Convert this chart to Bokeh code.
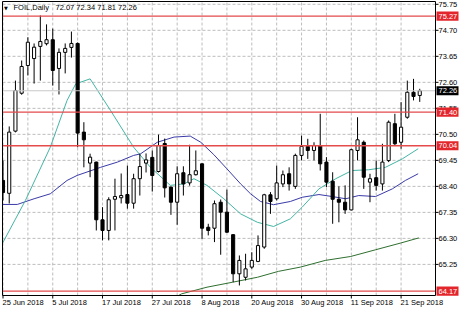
from bokeh.plotting import figure
from bokeh.models import Range1d, ColumnDataSource
from bokeh.core.properties import value
from bokeh.embed import file_html
from bokeh.resources import INLINE

# ---------------- data ----------------
symbol_text = "FOIL,Daily"
header_ohlc = "72.07 72.34 71.81 72.26"

opens = [68.64, 68.12, 70.63, 72.16, 73.28, 73.56, 74.05, 74.16, 74.32, 73.16,
         73.81, 74.01, 74.17, 70.59, 69.34, 69.38, 67.05, 66.62, 67.88, 67.94,
         68.07, 67.72, 68.71, 69.34, 69.57, 69.00, 70.13, 68.37, 67.76, 68.95,
         68.54, 68.87, 69.31, 66.75, 66.71, 67.76, 67.36, 66.45, 64.87, 64.73,
         65.14, 65.37, 65.95, 68.06, 67.90, 68.50, 68.91, 68.40, 69.65, 70.01,
         69.85, 70.05, 69.38, 68.61, 67.88, 67.76, 67.45, 69.85, 70.18, 68.57,
         68.75, 68.50, 69.44, 70.93, 70.18, 71.19, 72.20, 72.07]
highs = [69.44, 70.82, 72.67, 73.48, 74.42, 74.17, 75.30, 74.94, 74.77, 73.97,
         74.17, 74.65, 74.21, 70.99, 69.72, 69.40, 67.56, 67.96, 68.71, 68.92,
         69.24, 68.91, 69.72, 69.73, 69.85, 70.49, 70.33, 68.40, 69.21, 69.21,
         70.08, 69.85, 69.33, 66.89, 67.83, 67.87, 68.27, 66.47, 65.61, 65.68,
         65.74, 66.42, 68.10, 68.17, 69.24, 69.04, 69.17, 69.72, 70.45, 70.32,
         70.18, 71.33, 69.58, 68.97, 68.40, 68.44, 69.92, 71.19, 70.25, 68.91,
         69.44, 70.12, 71.06, 71.33, 71.80, 72.67, 72.74, 72.34]
lows = [67.83, 67.71, 70.58, 72.10, 72.88, 72.55, 72.67, 74.09, 72.47, 72.11,
        72.96, 73.60, 69.98, 69.17, 68.77, 66.62, 66.22, 66.22, 66.62, 67.71,
        67.50, 67.50, 68.03, 68.96, 68.19, 68.96, 67.95, 67.25, 66.85, 68.03,
        68.43, 68.84, 66.28, 66.42, 66.15, 65.64, 66.52, 64.53, 64.40, 64.60,
        65.07, 65.34, 65.88, 67.29, 67.83, 68.37, 68.23, 68.30, 69.45, 69.51,
        69.45, 69.04, 68.37, 66.89, 66.95, 67.29, 67.43, 69.45, 68.30, 67.76,
        68.23, 68.23, 69.38, 70.05, 69.92, 71.13, 71.87, 71.81]
closes = [68.15, 70.59, 72.27, 73.24, 74.22, 74.02, 74.25, 74.32, 73.08, 73.81,
          73.97, 74.17, 70.55, 70.28, 69.58, 67.05, 66.62, 67.86, 67.99, 68.03,
          67.72, 68.71, 69.20, 69.47, 68.84, 70.05, 68.34, 67.76, 68.91, 68.50,
          68.87, 69.03, 66.71, 66.62, 67.70, 67.36, 66.55, 64.87, 65.41, 65.07,
          65.41, 66.01, 68.06, 67.79, 68.54, 68.87, 68.50, 69.65, 70.01, 69.85,
          70.05, 69.31, 68.57, 67.88, 67.76, 67.45, 69.88, 70.28, 68.77, 68.71,
          68.44, 69.38, 70.99, 70.12, 70.79, 72.20, 72.03, 72.26]

date_ticks = [0, 8, 16, 24, 32, 40, 48, 56, 64]
date_labels = ["25 Jun 2018", "5 Jul 2018", "17 Jul 2018", "27 Jul 2018", "8 Aug 2018",
               "20 Aug 2018", "30 Aug 2018", "11 Sep 2018", "21 Sep 2018"]
price_ticks = [65.25, 66.30, 67.35, 68.40, 69.45, 70.50, 71.55, 72.60, 73.65, 74.70, 75.75]
levels = [75.27, 71.40, 70.04, 64.17]
last_price = 72.26

fast_ma_x = [-0.13, 3.6, 7.6, 10.3, 11.7, 14.0, 17.3, 21.0, 23.7, 26.9, 29.1, 30.7, 32.8,
             35.5, 38.2, 40.9, 43.5, 46.2, 48.1, 50.8, 53.5, 56.1, 58.8, 61.5, 64.2, 66.75]
fast_ma_y = [66.08, 67.83, 69.98, 71.87, 72.54, 72.74, 71.46, 69.98, 69.17, 68.44, 68.50,
             68.71, 68.44, 67.90, 67.29, 66.95, 66.78, 67.09, 67.56, 68.30, 68.71, 69.04,
             69.07, 69.17, 69.51, 69.92]
mid_ma_x = [-0.13, 2.3, 5.0, 7.6, 10.3, 11.9, 15.7, 18.4, 21.0, 22.1, 24.8, 27.5, 30.1,
            31.8, 33.9, 36.0, 38.2, 39.8, 41.4, 43.5, 46.2, 48.1, 50.8, 52.9, 55.1, 57.2,
            59.9, 62.6, 64.7, 66.75]
mid_ma_y = [67.67, 67.67, 67.90, 68.10, 68.64, 68.84, 69.17, 69.38, 69.65, 69.71, 70.18,
            70.39, 70.43, 70.18, 69.68, 69.11, 68.50, 68.10, 67.79, 67.66, 67.79, 67.96,
            68.07, 67.99, 67.90, 68.03, 67.99, 68.30, 68.64, 68.91]
slow_ma_x = [28.2, 28.7, 32.8, 36.9, 40.9, 44.3, 47.8, 51.8, 55.9, 59.9, 63.9, 66.85]
slow_ma_y = [63.99, 64.06, 64.33, 64.53, 64.73, 64.97, 65.14, 65.41, 65.57, 65.84, 66.11, 66.32]

# ---------------- geometry / styling (pixel layout of the MT4 window) ----------------
W, H = 465, 310
BAR0_PX, PX_PER_BAR = 2.5, 6.22          # bar index -> pixel
REF_PRICE, REF_PY, PX_PER_UNIT = 75.27, 15.7, 24.77   # price -> pixel
CH_L, CH_R, CH_T, CH_B = 2, 435, 1, 295   # chart area in pixels


def xd(px):
    return (px - BAR0_PX) / PX_PER_BAR


def yd(py):
    return REF_PRICE + (REF_PY - py) / PX_PER_UNIT


FONT = value("Liberation Sans")
FS = value("7.5px")
RED_LINE = "#E54B4B"
RED_BOX = "#E3262B"
GRID = "#BDBDBD"

p = figure(width=W, height=H, x_range=Range1d(xd(0), xd(W)), y_range=Range1d(yd(H), yd(0)),
           output_backend="svg", toolbar_location=None,
           x_axis_location=None, y_axis_location=None,
           min_border_left=0, min_border_right=0, min_border_top=0, min_border_bottom=0)
p.background_fill_color = "white"
p.border_fill_color = "white"
p.outline_line_color = None
p.grid.visible = False

L, R, T, B = xd(CH_L), xd(CH_R), yd(CH_T), yd(CH_B)

# grid
grid_x = list(range(0, date_ticks[-1] + 1, 4))
p.segment(x0=grid_x, y0=[B] * len(grid_x), x1=grid_x, y1=[T] * len(grid_x),
          line_color=GRID, line_dash="3 2", line_width=1)
p.segment(x0=[L] * len(price_ticks), y0=price_ticks, x1=[R] * len(price_ticks), y1=price_ticks,
          line_color=GRID, line_dash="3 2", line_width=1)

# indicator lines
p.line(slow_ma_x, slow_ma_y, line_color="#2F6F2F", line_width=1)
p.line(mid_ma_x, mid_ma_y, line_color="#3A3AA8", line_width=1)
p.line(fast_ma_x, fast_ma_y, line_color="#45B5A5", line_width=1)

# candles
idx = list(range(len(opens)))
p.segment(x0=idx, y0=lows, x1=idx, y1=highs, line_color="black", line_width=1)
up = [i for i in idx if closes[i] >= opens[i]]
dn = [i for i in idx if closes[i] < opens[i]]
src_up = ColumnDataSource(dict(x=up, top=[closes[i] for i in up], bottom=[opens[i] for i in up]))
src_dn = ColumnDataSource(dict(x=dn, top=[opens[i] for i in dn], bottom=[closes[i] for i in dn]))
p.vbar(x="x", top="top", bottom="bottom", width=0.5, source=src_up,
       fill_color="white", line_color="black", line_width=1)
p.vbar(x="x", top="top", bottom="bottom", width=0.5, source=src_dn,
       fill_color="black", line_color="black", line_width=1)

# bid line and horizontal levels
p.segment(x0=[L], y0=[last_price], x1=[R], y1=[last_price], line_color="#C8C8C8", line_width=1)
p.segment(x0=[L] * len(levels), y0=levels, x1=[R] * len(levels), y1=levels,
          line_color=RED_LINE, line_width=1.3)

# white margin left of the chart area (clip the first candle)
p.quad(left=[xd(0)], right=[L], top=[yd(0)], bottom=[yd(H)], fill_color="white", line_color=None)

# chart frame
p.quad(left=[L], right=[R], top=[T], bottom=[B], fill_color=None, line_color="black", line_width=1)

# price scale: ticks and labels
p.segment(x0=[R] * len(price_ticks), y0=price_ticks, x1=[xd(CH_R + 3)] * len(price_ticks),
          y1=price_ticks, line_color="black", line_width=1)
p.text(x=[xd(CH_R + 3)] * len(price_ticks), y=price_ticks,
       text=[f"{t:.2f}" for t in price_ticks], text_font=FONT, text_font_size=FS,
       text_color="black", text_baseline="middle", text_align="left")

# price boxes for levels and bid
box_l, box_r = xd(CH_R + 1), xd(CH_R + 23)
half_h = 4.6 / PX_PER_UNIT
p.quad(left=[box_l] * len(levels), right=[box_r] * len(levels),
       top=[lv + half_h for lv in levels], bottom=[lv - half_h for lv in levels],
       fill_color=RED_BOX, line_color=None)
p.quad(left=[box_l], right=[box_r], top=[last_price + half_h], bottom=[last_price - half_h],
       fill_color="black", line_color=None)
p.text(x=[xd(CH_R + 3)] * (len(levels) + 1), y=levels + [last_price],
       text=[f"{v:.2f}" for v in levels + [last_price]], text_font=FONT, text_font_size=FS,
       text_color="white", text_baseline="middle", text_align="left")

# time scale: ticks and labels
p.segment(x0=date_ticks, y0=[B] * len(date_ticks), x1=date_ticks,
          y1=[yd(CH_B + 3)] * len(date_ticks), line_color="black", line_width=1)
p.text(x=[xd(BAR0_PX + PX_PER_BAR * t - 0.5) for t in date_ticks], y=[yd(CH_B + 2)] * len(date_ticks),
       text=date_labels, text_font=FONT, text_font_size=FS, text_color="black",
       text_baseline="top", text_align="left")

# header
p.text(x=[xd(3.5)], y=[yd(7.3)], text=["▼"], text_font=value("DejaVu Sans"),
       text_font_size=value("5px"), text_color="black", text_baseline="middle", text_align="left")
p.text(x=[xd(13)], y=[yd(7.3)], text=[symbol_text], text_font=FONT, text_font_size=FS,
       text_color="black", text_baseline="middle", text_align="left")
p.text(x=[xd(55)], y=[yd(7.3)], text=[header_ohlc], text_font=FONT, text_font_size=FS,
       text_color="black", text_baseline="middle", text_align="left")

open("out.html", "w").write(file_html(p, INLINE))
